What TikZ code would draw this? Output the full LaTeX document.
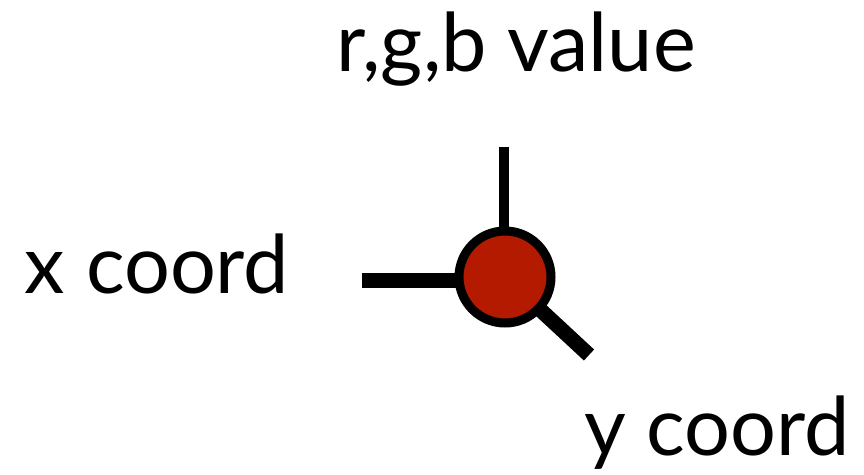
\documentclass[tikz,border=0pt]{standalone}
\usepackage{fontspec}
\setmainfont{Lato}
\usetikzlibrary{backgrounds}
\definecolor{nodered}{RGB}{180,26,0}
\begin{document}
\begin{tikzpicture}[x=1pt,y=-1pt,
  leg/.style={line width=#1,line cap=butt},
  lbl/.style={anchor=base,inner sep=0pt,font=\fontsize{81}{95}\selectfont}]
\useasboundingbox (0,0) rectangle (864,474);
\node[circle,draw=black,fill=nodered,line width=9pt,minimum size=92pt,inner sep=0pt] (t) at (505,277) {};
\coordinate (up) at (503.5,147);
\coordinate (lf) at (362,280);
\coordinate (dg) at (589,355);
\begin{pgfonlayer}{background}
\draw[leg=10pt] (up) -- (t.center -| up);
\draw[leg=15pt] (lf) -- (t.center |- lf);
\draw[leg=15pt] (dg) -- (t.center);
\end{pgfonlayer}
\node[lbl] (rgb) at (516,71) {r,g,b value};
\node[lbl] (xc) at (157,293) {x coord};
\node[lbl] (yc) at (717,455) {y coord};
\end{tikzpicture}
\end{document}
